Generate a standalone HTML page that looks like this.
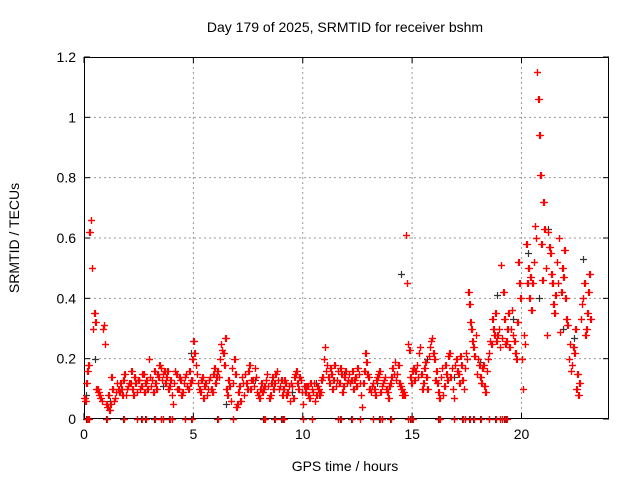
<!DOCTYPE html>
<html><head><meta charset="utf-8"><style>
body{margin:0;background:#fff}
svg{display:block;font-family:"Liberation Sans",sans-serif}
</style></head><body>
<svg id="c" width="640" height="480">
<text x="345" y="32" font-size="14" text-anchor="middle">Day 179 of 2025, SRMTID for receiver bshm</text>
<text x="345" y="471" font-size="14" text-anchor="middle">GPS time / hours</text>
<text x="19" y="238" font-size="14" text-anchor="middle" transform="rotate(-90 19 238)">SRMTID / TECUs</text>
<g id="grid"></g><g id="axes"></g><g id="marks"></g>
</svg>
<script>
const xTicks=[0,5,10,15,20];
const yTicks=[0,0.2,0.4,0.6,0.8,1,1.2];
const yTickLabels=["0","0.2","0.4","0.6","0.8","1","1.2"];
const redA=[0.07,0.12,0.18,0.66,0.3,0.32,0.1,0.08,0.06,0.31,
0.05,0.08,0.05,0.1,0.07,0.12,0.09,0.1,0.13,0.08,
0.11,0.12,0.1,0.14,0.09,0.13,0.11,0.15,0.12,0.1,
0.14,0.13,0.16,0.1,0.14,0.17,0.15,0.12,0.16,0.11,
0.08,0.12,0.15,0.1,0.13,0.09,0.14,0.11,0.16,0.13,
0.26,0.18,0.12,0.09,0.14,0.11,0.08,0.13,0.1,0.15,
0.12,0.16,0.2,0.23,0.18,0.1,0.13,0.06,0.12,0.15,
0.05,0.11,0.14,0.08,0.12,0.16,0.1,0.13,0.17,0.09,
0.07,0.12,0.1,0.13,0.11,0.08,0.14,0.12,0.16,0.1,
0.13,0.1,0.12,0.09,0.06,0.11,0.14,0.16,0.1,0.13,
0.05,0.09,0.11,0.07,0.1,0.12,0.08,0.1,0.09,0.14,
0.24,0.18,0.12,0.15,0.13,0.11,0.16,0.17,0.09,0.14,
0.12,0.15,0.13,0.1,0.14,0.17,0.12,0.04,0.16,0.19,
0.14,0.09,0.12,0.08,0.14,0.16,0.11,0.13,0.1,0.07,
0.12,0.17,0.19,0.15,0.12,0.1,0.09,0.61,0.25,0.14,
0.16,0.13,0.18,0.22,0.15,0.12,0.19,0.1,0.24,0.27,
0.2,0.16,0.09,0.14,0.08,0.18,0.13,0.22,0.17,0.07,
0.2,0.15,0.21,0.13,0.17,0.2,0.38,0.3,0.24,0.28,
0.2,0.14,0.17,0.11,0.16,0.22,0.25,0.3,0.35,0.28,
0.24,0.27,0.33,0.26,0.35,0.3,0.28,0.22,0.32,0.45,
0.2,0.28,0.58,0.5,0.47,0.45,0.64,1.15,0.94,0.58,
0.72,0.5,0.62,0.55,0.45,0.35,0.52,0.6,0.42,0.47,
0.4,0.31,0.25,0.18,0.22,0.1,0.08,0.33,0.4,0.28,
0.35,0.48];
const redB=[0.06,0.16,0.62,0.5,0.35,0.1,0.09,0.07,0.3,0.25,
0.04,0.03,0.14,0.06,0.09,0.1,0.12,0.08,0.15,0.1,
0.12,0.16,0.08,0.12,0.13,0.1,0.15,0.09,0.13,0.2,
0.11,0.09,0.12,0.15,0.18,0.13,0.16,0.14,0.1,0.13,
0.05,0.16,0.1,0.14,0.08,0.12,0.15,0.1,0.12,0.2,
0.22,0.15,0.1,0.13,0.07,0.12,0.1,0.14,0.09,0.17,
0.14,0.14,0.25,0.22,0.27,0.08,0.11,0.17,0.2,0.04,
0.09,0.06,0.12,0.15,0.1,0.18,0.13,0.11,0.14,0.08,
0.1,0.09,0.11,0.15,0.07,0.12,0.1,0.15,0.13,0.11,
0.08,0.13,0.08,0.11,0.12,0.07,0.15,0.12,0.14,0.09,
0.11,0.11,0.08,0.12,0.09,0.06,0.11,0.08,0.13,0.2,
0.16,0.14,0.17,0.1,0.18,0.13,0.12,0.15,0.11,0.16,
0.13,0.12,0.16,0.13,0.11,0.15,0.08,0.12,0.22,0.15,
0.1,0.11,0.1,0.13,0.15,0.09,0.12,0.14,0.09,0.11,
0.14,0.15,0.13,0.18,0.11,0.08,0.08,0.45,0.23,0.12,
0.17,0.16,0.14,0.24,0.1,0.17,0.14,0.21,0.26,0.22,
0.13,0.12,0.07,0.17,0.11,0.15,0.21,0.14,0.1,0.18,
0.16,0.12,0.18,0.1,0.22,0.42,0.32,0.26,0.21,0.15,
0.18,0.12,0.18,0.09,0.2,0.26,0.33,0.28,0.26,0.3,
0.51,0.42,0.25,0.3,0.24,0.36,0.26,0.2,0.52,0.4,
0.1,0.25,0.45,0.4,0.36,0.52,0.6,1.06,0.81,0.46,
0.63,0.28,0.57,0.48,0.38,0.41,0.45,0.29,0.5,0.56,
0.33,0.2,0.16,0.24,0.3,0.15,0.12,0.38,0.45,0.3,
0.42,0.33];
const blackT=[0.1,0.5,1.2,2.5,3.6,4.9,6.5,7.8,9.5,10.6,11.9,13.4,14.5,15.7,16.9,18.1,18.9,19.6,20.3,20.8,21.2,21.4,21.9,22.4,22.8];
const blackV=[0.08,0.2,0.06,0.13,0.11,0.22,0.05,0.13,0.09,0.12,0.15,0.12,0.48,0.2,0.14,0.19,0.41,0.33,0.55,0.4,0.63,0.45,0.3,0.27,0.53];
const zeroT=[0.1,0.15,0.2,1.0,1.8,2.4,2.6,2.8,3.2,3.5,3.6,3.9,4.0,4.6,4.9,6.1,6.8,8.2,8.25,8.7,9.0,9.1,10.0,10.4,11.6,11.7,12.2,12.6,13.2,13.5,13.6,14.0,14.8,14.9,15.0,16.2,16.25,16.9,17.3,17.4,17.6,17.8,18.1,18.5,18.8,19.0,19.1,19.2,19.3];

const L=84,R=609,T=57,B=419,XMAX=24,YMAX=1.2;
const xs=v=>L+(R-L)*v/XMAX, ys=v=>B-(B-T)*v/YMAX;
const NS="http://www.w3.org/2000/svg";
function mk(tag,attrs,parent){const e=document.createElementNS(NS,tag);for(const k in attrs)e.setAttribute(k,attrs[k]);parent.appendChild(e);return e;}
const grid=document.getElementById('grid'),axes=document.getElementById('axes'),marks=document.getElementById('marks');
xTicks.forEach(t=>{const x=xs(t);
 if(t>0){const g=mk('line',{x1:x,x2:x,y1:T,y2:B,stroke:'#999','stroke-dasharray':'2,3','stroke-width':1},grid);
 
 }
 mk('line',{x1:x,x2:x,y1:B,y2:B-6,stroke:'#000'},axes);
 mk('line',{x1:x,x2:x,y1:T,y2:T+6,stroke:'#000'},axes);
 const tx=mk('text',{x:x,y:B+20,'font-size':14,'text-anchor':'middle'},axes);tx.textContent=t;
 
 
});
yTicks.forEach((t,i)=>{const y=ys(t);
 if(t>0&&t<YMAX){const g=mk('line',{x1:L,x2:R,y1:y,y2:y,stroke:'#999','stroke-dasharray':'2,3','stroke-width':1},grid);
 
 }
 mk('line',{x1:L,x2:L+6,y1:y,y2:y,stroke:'#000'},axes);
 mk('line',{x1:R,x2:R-6,y1:y,y2:y,stroke:'#000'},axes);
 const tx=mk('text',{x:L-8,y:y+5,'font-size':14,'text-anchor':'end'},axes);tx.textContent=yTickLabels[i];
 
 
});
const frame=mk('rect',{x:L+0.5,y:T+0.5,width:R-L-1,height:B-T-1,fill:'none',stroke:'#000'},axes);


function plus(t,v,col,name){const x=Math.round(xs(t))+0.5,y=Math.round(ys(v))+0.5;
 const p=mk('path',{d:`M${x-3.5},${y}H${x+3.5}M${x},${y-3.5}V${y+3.5}`,stroke:col,'stroke-width':1.2,fill:'none'},marks);
 
 }
blackT.forEach((t,i)=>plus(t,blackV[i],'#333','black-point'));
zeroT.forEach(t=>plus(t,0,'#333','zero-point-black'));
redA.forEach((v,i)=>{plus(i*0.1,v,'#f00','red-point');plus(i*0.1+0.03,v,'#f00','red-point');});
redB.forEach((v,i)=>{plus(i*0.1+0.05,v,'#f00','red-point');plus(i*0.1+0.08,v,'#f00','red-point');});
zeroT.forEach(t=>plus(t+0.03,0,'#f00','zero-point-red'));
</script>
</body></html>
